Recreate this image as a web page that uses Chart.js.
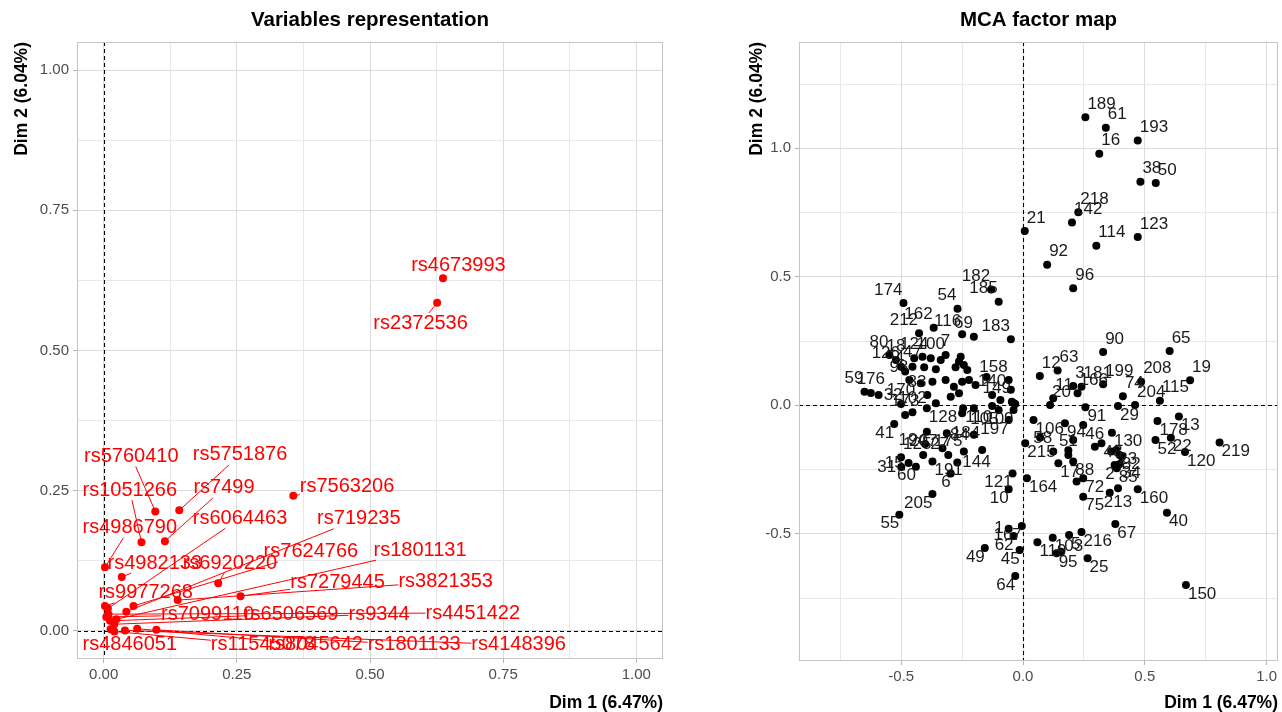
<!DOCTYPE html>
<html><head><meta charset="utf-8">
<script src="https://cdn.jsdelivr.net/npm/chart.js@4.4.1/dist/chart.umd.min.js"></script>
<style>
html,body{margin:0;padding:0;background:#fff;width:1282px;height:712px;overflow:hidden}
#c1{position:absolute;left:0;top:0}
#c2{position:absolute;left:700px;top:0}
</style></head><body>
<canvas id="c1" width="690" height="712"></canvas>
<canvas id="c2" width="582" height="712"></canvas>
<script>
// ---------- Left panel: variables ----------
const varNames = ['rs4673993','rs2372536','rs5760410','rs5751876','rs1051266','rs7499','rs7563206','rs4986790','rs6064463','rs719235','rs4982133','rs6920220','rs7624766','rs1801131','rs9977268','rs7279445','rs3821353','rs7099110','rs6506569','rs9344','rs4451422','rs4846051','rs11545078','rs8045642','rs1801133','rs4148396'];
const varDim1 = [0.637,0.626,0.097,0.142,0.071,0.115,0.356,0.0025,0.008,0.0426,0.034,0.215,0.056,0.024,0.0025,0.257,0.139,0.005,0.012,0.020,0.009,0.013,0.020,0.063,0.099,0.040];
const varDim2 = [0.629,0.585,0.213,0.215,0.158,0.160,0.241,0.1135,0.040,0.0344,0.096,0.085,0.0446,0.021,0.0446,0.062,0.055,0.025,0.018,0.012,0.030,0.003,-0.001,0.004,0.002,0.001];
// repelled label anchor positions (text centres), in data units
const varLabelDim1 = [0.666,0.595,0.052,0.256,0.049,0.226,0.457,0.049,0.256,0.479,0.096,0.237,0.389,0.594,0.079,0.439,0.642,0.195,0.352,0.517,0.693,0.049,0.299,0.398,0.583,0.779];
const varLabelDim2 = [0.652,0.549,0.311,0.314,0.251,0.255,0.257,0.184,0.201,0.200,0.121,0.121,0.141,0.144,0.068,0.086,0.088,0.0285,0.030,0.030,0.032,-0.025,-0.025,-0.025,-0.025,-0.025];
const leftMajorTicks = [0, 0.25, 0.5, 0.75, 1.0];
const leftMinorTicks = [0.125, 0.375, 0.625, 0.875];

// ---------- Right panel: individuals ----------
const indNames = ['189','61','193','16','38','50','218','142','21','123','114','92','96',
 '90','65','19','208','74','204','115','29','199','166','3','181','12','63','158','11','20',
 '178','13','52','22','120','219','130','85','213','160','40','67','150','216','25','95','103','','5','119',
 '1','167','62','45','64','49','55','205','121','10','164','215','58','','106','94','46','91','51','17','88','72','75','',
 '48','','','23','82','','2','34','','','',
 '174','54','182','185','162','212','116','69','183','80','18','124','100','7','','','','126','4','47','','','',
 '98','','','','','','83','','','59','176','32','','','','','','140','','149','','','',
 '170','173','102','128','','110','41','194','184','27','','125','207','175','60','15','31','191','6','144',
 '105','109','197','84','','','','','',''];
const indDim1 = [0.256,0.340,0.471,0.313,0.482,0.545,0.227,0.201,0.007,0.471,0.301,0.099,0.206,
 0.329,0.602,0.686,0.485,0.410,0.460,0.562,0.390,0.329,0.224,0.206,0.240,0.069,0.142,-0.059,0.124,0.111,
 0.552,0.640,0.544,0.607,0.665,0.807,0.365,0.385,0.390,0.471,0.591,0.379,0.669,0.240,0.265,0.138,0.122,0.156,0.189,0.059,
 -0.059,-0.005,-0.039,-0.014,-0.032,-0.157,-0.508,-0.372,-0.043,-0.059,0.016,0.009,0.124,0.070,0.043,0.172,0.247,0.256,0.186,0.145,0.206,0.247,0.247,0.220,
 0.322,0.295,0.362,0.383,0.397,0.406,0.376,0.397,0.356,0.206,0.186,
 -0.491,-0.269,-0.131,-0.100,-0.367,-0.427,-0.250,-0.202,-0.050,-0.549,-0.522,-0.447,-0.379,-0.318,-0.413,-0.338,-0.263,-0.501,-0.484,-0.454,-0.406,-0.358,-0.277,
 -0.467,-0.420,-0.372,-0.318,-0.284,-0.250,-0.393,-0.297,-0.263,-0.651,-0.625,-0.593,-0.256,-0.243,-0.229,-0.222,-0.195,-0.127,-0.093,-0.046,-0.032,-0.202,-0.127,
 -0.501,-0.484,-0.454,-0.395,-0.358,-0.246,-0.529,-0.395,-0.313,-0.402,-0.331,-0.501,-0.410,-0.307,-0.440,-0.470,-0.500,-0.372,-0.297,-0.270,
 -0.100,-0.039,-0.059,-0.202,-0.243,-0.168,-0.039,-0.250,-0.050,-0.150];
const indDim2 = [1.121,1.080,1.030,0.979,0.870,0.865,0.751,0.711,0.678,0.655,0.621,0.547,0.455,
 0.207,0.211,0.097,0.092,0.035,0.001,0.018,-0.003,0.082,0.047,0.075,0.072,0.114,0.135,0.098,0.027,0.001,
 -0.061,-0.044,-0.135,-0.126,-0.182,-0.145,-0.107,-0.245,-0.323,-0.327,-0.418,-0.462,-0.699,-0.493,-0.595,-0.576,-0.515,-0.570,-0.505,-0.533,
 -0.480,-0.470,-0.509,-0.563,-0.664,-0.555,-0.426,-0.345,-0.265,-0.327,-0.284,-0.148,-0.180,-0.125,-0.057,-0.070,-0.077,-0.008,-0.193,-0.226,-0.219,-0.284,-0.356,-0.297,
 -0.148,-0.161,-0.180,-0.174,-0.193,-0.200,-0.232,-0.228,-0.340,-0.135,-0.175,
 0.398,0.376,0.451,0.403,0.302,0.280,0.276,0.267,0.257,0.196,0.176,0.183,0.183,0.196,0.189,0.176,0.170,0.150,0.131,0.150,0.148,0.140,0.148,
 0.098,0.086,0.092,0.098,0.072,0.092,0.040,0.033,0.047,0.053,0.048,0.040,0.189,0.157,0.137,0.098,0.079,0.040,0.021,0.014,0.005,-0.012,-0.003,
 0.005,-0.038,-0.027,-0.012,0.008,-0.012,-0.073,-0.103,-0.109,-0.151,-0.167,-0.202,-0.193,-0.193,-0.239,-0.225,-0.240,-0.219,-0.265,-0.223,
 -0.018,-0.018,-0.057,-0.115,-0.180,-0.174,0.009,-0.031,0.060,0.110];
// label placement around each point (ur, ul, dr, dl, u, d, r, l)
const indLabelSide = ['ur','ur','ur','ur','ur','ur','ur','ur','ur','ur','ur','ur','ur',
 'ur','ur','ur','ur','ur','ur','ur','dr','ur','ur','ur','ur','ur','ur','ul','ur','ur',
 'dr','dr','dr','dr','dr','dr','dr','dr','d','dr','dr','dr','dr','dr','dr','dr','dr','','dr','dr',
 'l','dl','dl','dl','dl','dl','dl','dl','dl','dl','dr','dr','ul','','dr','dr','dr','dr','u','dr','dr','dr','dr','',
 'dr','','','dr','dr','','dl','dr','','','',
 'ul','ul','ul','ul','ul','ul','ul','ul','ul','ul','u','u','u','u','','','','ul','ul','u','','','',
 'ul','','','','','','ul','','','ul','u','r','','','','','','u','','ul','','','',
 'u','u','u','dr','','dr','dl','dl','r','r','','ur','u','u','dl','l','l','dr','dl','r',
 'dl','dl','dl','l','','','','','',''];
const rightMajorTicks = [-0.5, 0, 0.5, 1.0];
const rightMinorXTicks = [-0.75, -0.25, 0.25, 0.75];
const rightMinorYTicks = [-0.75, -0.25, 0.25, 0.75, 1.25];

// ---------- shared styling ----------
const FONT = "'Liberation Sans', Arial, sans-serif";
const TICKCOL = '#4d4d4d';

function isIn(v, arr){ return arr.some(a => Math.abs(a - v) < 1e-9); }

function axisOpts(min, max, major, minor, fmt, isX, fixedSize){
  return {
    type: 'linear', min, max,
    afterBuildTicks: s => { s.ticks = major.concat(minor).sort((a,b)=>a-b).map(v => ({value: v})); },
    afterFit: s => { if (isX) s.height = fixedSize; else s.width = fixedSize; },
    ticks: {
      autoSkip: false, maxRotation: 0, color: TICKCOL,
      font: {family: FONT, size: 15},
      padding: isX ? 3 : 4,
      callback: v => isIn(v, major) ? fmt(v) : ''
    },
    grid: {
      color: ctx => (ctx.tick && isIn(ctx.tick.value, major)) ? '#dcdcdc' : '#e8e8e8',
      lineWidth: 1,
      tickLength: 4,
      tickColor: ctx => (ctx.tick && isIn(ctx.tick.value, major)) ? '#b3b3b3' : 'rgba(0,0,0,0)'
    },
    border: {display: false}
  };
}

function framePlugin(title, xTitle, yTitle, yTitleX){
  return {
    id: 'frame_' + title.replace(/\s/g,''),
    beforeDatasetsDraw(chart){
      const {ctx, chartArea: a, scales: {x, y}} = chart;
      ctx.save();
      ctx.strokeStyle = '#000'; ctx.lineWidth = 1.1; ctx.setLineDash([4, 3]);
      const x0 = Math.round(x.getPixelForValue(0)) + 0.5;
      const y0 = Math.round(y.getPixelForValue(0)) + 0.5;
      ctx.beginPath(); ctx.moveTo(x0, a.top); ctx.lineTo(x0, a.bottom); ctx.stroke();
      ctx.beginPath(); ctx.moveTo(a.left, y0); ctx.lineTo(a.right, y0); ctx.stroke();
      ctx.restore();
    },
    afterDraw(chart){
      const {ctx, chartArea: a} = chart;
      ctx.save();
      ctx.strokeStyle = '#c4c4c4'; ctx.lineWidth = 1; ctx.setLineDash([]);
      ctx.strokeRect(Math.round(a.left)+0.5, Math.round(a.top)+0.5, Math.round(a.right-a.left)-1, Math.round(a.bottom-a.top)-1);
      ctx.fillStyle = '#000';
      ctx.font = 'bold 20.5px ' + FONT;
      ctx.textAlign = 'center'; ctx.textBaseline = 'middle';
      ctx.fillText(title, (a.left + a.right)/2, 20);
      ctx.font = 'bold 17.5px ' + FONT;
      ctx.textAlign = 'right';
      ctx.fillText(xTitle, a.right, 703);
      ctx.translate(yTitleX, a.top);
      ctx.rotate(-Math.PI/2);
      ctx.textAlign = 'right';
      ctx.fillText(yTitle, 0, 0);
      ctx.restore();
    }
  };
}

// label plugin for the variables panel (labels + repel segments)
const varLabelPlugin = {
  id: 'varLabels',
  afterDatasetsDraw(chart){
    const {ctx, scales: {x, y}} = chart;
    ctx.save();
    ctx.font = '20px ' + FONT;
    ctx.textAlign = 'center'; ctx.textBaseline = 'middle';
    ctx.strokeStyle = '#ff0000'; ctx.fillStyle = '#ff0000'; ctx.lineWidth = 1;
    varNames.forEach((n, i) => {
      const px = x.getPixelForValue(varDim1[i]), py = y.getPixelForValue(varDim2[i]);
      const lx = x.getPixelForValue(varLabelDim1[i]), ly = y.getPixelForValue(varLabelDim2[i]);
      const hw = ctx.measureText(n).width / 2, hh = 10;
      const dx = px - lx, dy = py - ly;
      const t = Math.min(dx !== 0 ? hw / Math.abs(dx) : Infinity, dy !== 0 ? hh / Math.abs(dy) : Infinity);
      if (t >= 1) return;
      const sx = lx + t * dx, sy = ly + t * dy;
      if (Math.hypot(px - sx, py - sy) > 6) {
        ctx.beginPath(); ctx.moveTo(sx, sy); ctx.lineTo(px, py); ctx.stroke();
      }
    });
    varNames.forEach((n, i) => {
      ctx.fillText(n, x.getPixelForValue(varLabelDim1[i]), y.getPixelForValue(varLabelDim2[i]));
    });
    ctx.restore();
  }
};

const indLabelPlugin = {
  id: 'indLabels',
  afterDatasetsDraw(chart){
    const {ctx, scales: {x, y}} = chart;
    ctx.save();
    ctx.font = '17px ' + FONT;
    ctx.textBaseline = 'middle';
    ctx.fillStyle = '#1a1a1a';
    const off = {ur:[2,-13,'left'], ul:[-1,-13,'right'], dr:[2,9,'left'], dl:[0,9,'right'],
                 u:[0,-14,'center'], d:[0,14,'center'], r:[5,0,'left'], l:[-5,0,'right']};
    indNames.forEach((n, i) => {
      if (!n || !indLabelSide[i]) return;
      const o = off[indLabelSide[i]];
      ctx.textAlign = o[2];
      ctx.fillText(n, x.getPixelForValue(indDim1[i]) + o[0], y.getPixelForValue(indDim2[i]) + o[1]);
    });
    ctx.restore();
  }
};

const f2 = v => v.toFixed(2);
const f1 = v => v.toFixed(1);

new Chart(document.getElementById('c1'), {
  type: 'scatter',
  data: {datasets: [{
    data: varDim1.map((v, i) => ({x: v, y: varDim2[i]})),
    pointRadius: 4, pointBackgroundColor: '#ff0000', pointBorderWidth: 0, pointHoverRadius: 4
  }]},
  options: {
    responsive: false, animation: false, events: [],
    layout: {padding: {left: 0, right: 27, top: 42, bottom: 0}},
    plugins: {legend: {display: false}, tooltip: {enabled: false}, title: {display: false}},
    scales: {
      x: axisOpts(-0.05, 1.05, leftMajorTicks, leftMinorTicks, f2, true, 53),
      y: axisOpts(-0.05, 1.05, leftMajorTicks, leftMinorTicks, f2, false, 77)
    }
  },
  plugins: [framePlugin('Variables representation', 'Dim 1 (6.47%)', 'Dim 2 (6.04%)', 22), varLabelPlugin]
});

new Chart(document.getElementById('c2'), {
  type: 'scatter',
  data: {datasets: [{
    data: indDim1.map((v, i) => ({x: v, y: indDim2[i]})),
    pointRadius: 4, pointBackgroundColor: '#000000', pointBorderWidth: 0, pointHoverRadius: 4
  }]},
  options: {
    responsive: false, animation: false, events: [],
    layout: {padding: {left: 0, right: 1, top: 42, bottom: 0}},
    plugins: {legend: {display: false}, tooltip: {enabled: false}, title: {display: false}},
    scales: {
      x: axisOpts(-0.920, 1.047, rightMajorTicks, rightMinorXTicks, f1, true, 51),
      y: axisOpts(-0.995, 1.4136, rightMajorTicks, rightMinorYTicks, f1, false, 99)
    }
  },
  plugins: [framePlugin('MCA factor map', 'Dim 1 (6.47%)', 'Dim 2 (6.04%)', 57), indLabelPlugin]
});
</script>
</body></html>
